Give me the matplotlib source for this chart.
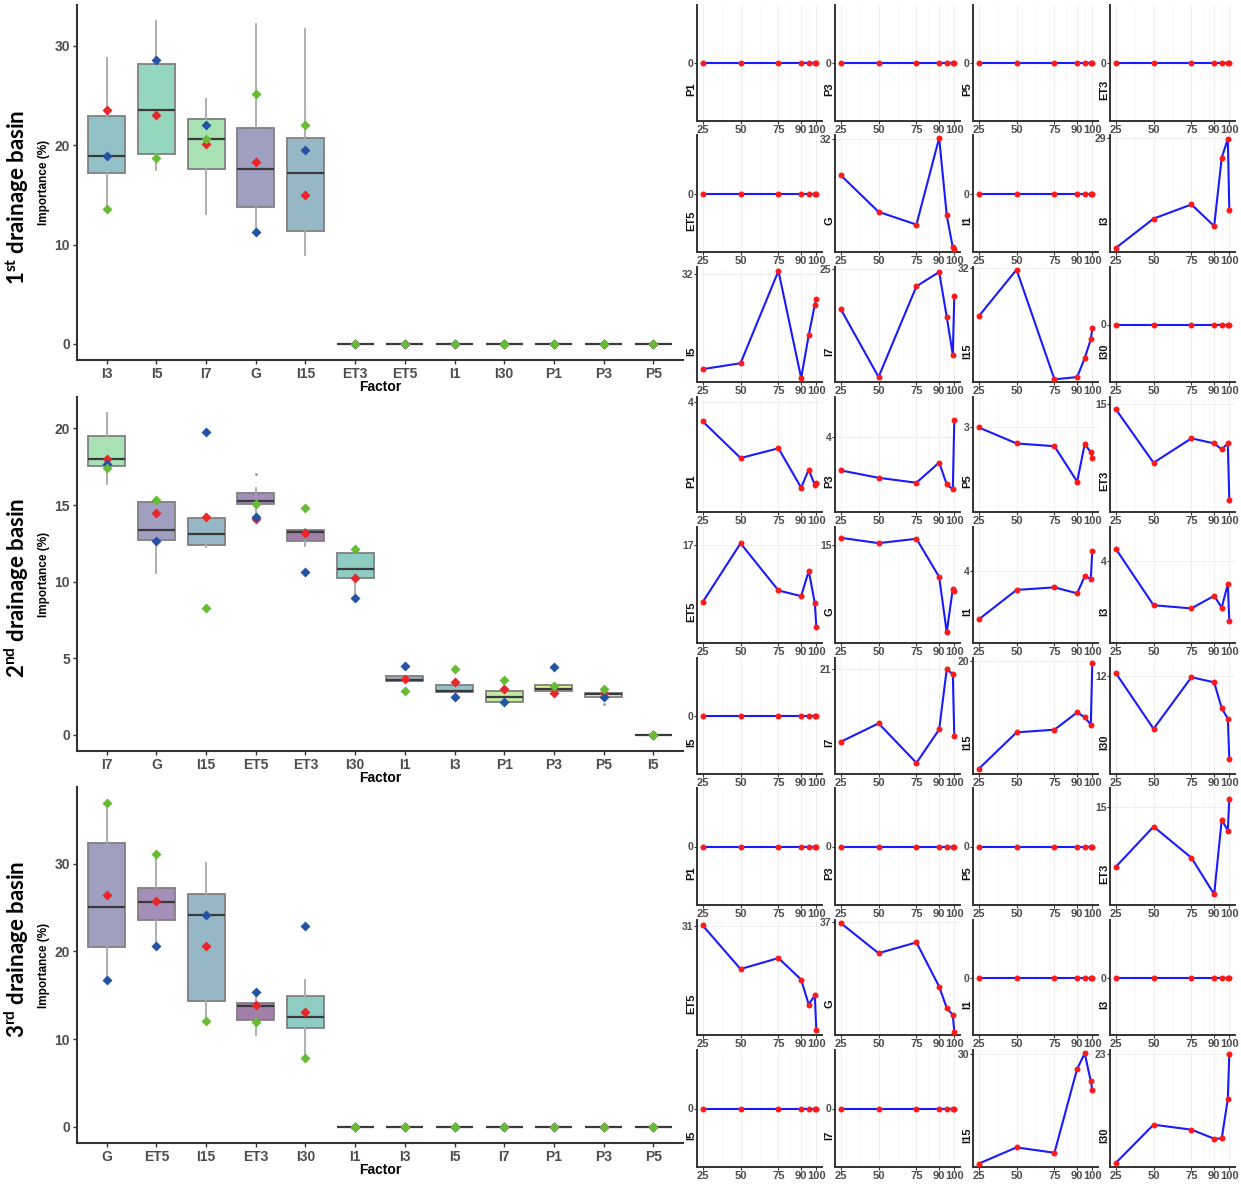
import numpy as np
import matplotlib
matplotlib.use('Agg')
import matplotlib.pyplot as plt
from matplotlib.ticker import MultipleLocator

plt.rcParams['font.family'] = 'Liberation Sans'
plt.rcParams['mathtext.fontset'] = 'custom'
plt.rcParams['mathtext.rm'] = 'Lato'
plt.rcParams['mathtext.bf'] = 'Lato:bold'

# percentiles on the x axis of the small plots
pct = [25, 50, 75, 90, 95, 99, 100]

# importance (%) per factor, one value per percentile (missing factor = all zero)
basin1 = {
    'G':   [25.2, 18.3, 15.9, 32.2, 17.65, 11.6, 11.3],
    'I3':  [13.6, 17.7, 19.67, 16.66, 26.2, 28.8, 18.87],
    'I5':  [18.75, 19.58, 32.5, 17.5, 23.52, 27.78, 28.56],
    'I7':  [20.61, 13.1, 23.12, 24.7, 19.73, 15.57, 22.09],
    'I15': [22.0, 31.7, 8.9, 9.38, 13.34, 17.23, 19.48],
}
basin2 = {
    'P1':  [3.56, 2.73, 2.95, 2.06, 2.47, 2.12, 2.17],
    'P3':  [3.19, 3.01, 2.89, 3.38, 2.85, 2.73, 4.42],
    'P5':  [3.0, 2.71, 2.66, 2.02, 2.70, 2.55, 2.45],
    'ET3': [14.79, 12.35, 13.46, 13.23, 12.96, 13.23, 10.66],
    'ET5': [15.07, 17.05, 15.46, 15.27, 16.12, 15.04, 14.24],
    'G':   [15.35, 15.08, 15.30, 13.36, 10.55, 12.76, 12.64],
    'I1':  [2.86, 3.55, 3.61, 3.47, 3.87, 3.81, 4.47],
    'I3':  [4.32, 2.88, 2.80, 3.12, 2.82, 3.42, 2.47],
    'I7':  [17.41, 18.32, 16.37, 18.02, 21.0, 20.75, 17.69],
    'I15': [8.3, 12.27, 12.56, 14.44, 13.9, 13.1, 19.79],
    'I30': [12.12, 10.05, 11.96, 11.77, 10.81, 10.43, 8.93],
}
basin3 = {
    'ET3': [11.9, 13.97, 12.37, 10.5, 14.32, 13.77, 15.4],
    'ET5': [31.1, 26.73, 27.83, 25.67, 23.17, 24.1, 20.66],
    'G':   [36.9, 31.3, 33.31, 25.1, 21.15, 19.87, 16.7],
    'I15': [12.1, 14.75, 13.87, 27.59, 30.1, 25.54, 24.1],
    'I30': [7.85, 13.16, 12.47, 11.22, 11.25, 16.71, 22.95],
}

# factor order on the boxplot axes and the red markers
order1 = ['I3', 'I5', 'I7', 'G', 'I15', 'ET3', 'ET5', 'I1', 'I30', 'P1', 'P3', 'P5']
order2 = ['I7', 'G', 'I15', 'ET5', 'ET3', 'I30', 'I1', 'I3', 'P1', 'P3', 'P5', 'I5']
order3 = ['G', 'ET5', 'I15', 'ET3', 'I30', 'I1', 'I3', 'I5', 'I7', 'P1', 'P3', 'P5']
red1 = [23.6, 23.0, 20.1, 18.3, 15.0, 0, 0, 0, 0, 0, 0, 0]
red2 = [18.0, 14.48, 14.24, 14.11, 13.2, 10.23, 3.64, 3.47, 3.02, 2.76, 2.71, 0]
red3 = [26.45, 25.8, 20.66, 13.87, 13.04, 0, 0, 0, 0, 0, 0, 0]

row_labels = [r'1$^{\mathbf{st}}$ drainage basin',
              r'2$^{\mathbf{nd}}$ drainage basin',
              r'3$^{\mathbf{rd}}$ drainage basin']
y_steps = [10, 5, 10]

factors = ['ET3', 'ET5', 'G', 'I1', 'I15', 'I3', 'I30', 'I5', 'I7', 'P1', 'P3', 'P5']
grid_order = ['P1', 'P3', 'P5', 'ET3', 'ET5', 'G', 'I1', 'I3', 'I5', 'I7', 'I15', 'I30']

W, H = 1241, 1184
fig = plt.figure(figsize=(W / 100, H / 100), dpi=100)


def px_axes(x0, y0, x1, y1):
    return fig.add_axes([x0 / W, 1 - y1 / H, (x1 - x0) / W, (y1 - y0) / H])


cmap = plt.get_cmap('viridis', 12)
fill = {f: cmap(i)[:3] + (0.5,) for i, f in enumerate(factors)}
zeros = [0.0] * len(pct)
grey = '#4d4d4d'

basins = [basin1, basin2, basin3]
orders = [order1, order2, order3]
reds = [red1, red2, red3]
panel_px = [(5, 360), (397, 751), (787, 1143)]
label_y = [197, 588, 949]

# ---- left: boxplots ----
for b in range(3):
    vals, order = basins[b], orders[b]
    ax = px_axes(77, panel_px[b][0], 683, panel_px[b][1])
    data = [vals.get(f, zeros) for f in order]
    x = np.arange(1, len(order) + 1)
    bp = ax.boxplot(data, positions=x, widths=0.75, patch_artist=True,
                    showcaps=False, whis=1.5,
                    boxprops=dict(edgecolor='#808080', linewidth=1.3),
                    medianprops=dict(color='#3a3a3a', linewidth=1.6),
                    whiskerprops=dict(color='#a8a8a8', linewidth=1.3),
                    flierprops=dict(marker='o', markersize=2, markerfacecolor='#999999',
                                    markeredgecolor='none'))
    for patch, f in zip(bp['boxes'], order):
        patch.set_facecolor(fill[f])

    ax.plot(x, reds[b], 'D', color='#e8262a', ms=5.5, mec='none', zorder=5)
    ax.plot(x, [d[-1] for d in data], 'D', color='#2453a4', ms=5.5, mec='none', zorder=5)
    ax.plot(x, [d[0] for d in data], 'D', color='#67bb35', ms=5.5, mec='none', zorder=6)

    ax.set_xlim(0.4, len(order) + 0.6)
    ax.margins(y=0.05)
    ax.yaxis.set_major_locator(MultipleLocator(y_steps[b]))
    ax.set_xticks(x, order)
    for s in ['top', 'right']:
        ax.spines[s].set_visible(False)
    for s in ['left', 'bottom']:
        ax.spines[s].set_color('#333333')
        ax.spines[s].set_linewidth(1.5)
    ax.tick_params(length=3, width=1, color='#333333', labelcolor=grey, labelsize=10, pad=2)
    for t in ax.get_xticklabels() + ax.get_yticklabels():
        t.set_fontweight('bold')
    ax.set_xlabel('Factor', fontsize=10, fontweight='bold', labelpad=-1)
    ax.set_ylabel('Importance (%)', fontsize=8.5, fontweight='bold', labelpad=3)

    fig.text(17 / W, 1 - label_y[b] / H, row_labels[b], rotation=90, ha='center', va='center',
             fontsize=16, fontweight='bold', family='Lato')

# ---- right: small line plots ----
col_x = [697, 835, 973, 1110]
row_top = [5, 135, 267, 397, 527, 658, 788, 920, 1050]
row_bot = [121, 252, 382, 512, 643, 774, 905, 1035, 1167]

for b in range(3):
    vals = basins[b]
    for k, f in enumerate(grid_order):
        r = 3 * b + k // 4
        c = k % 4
        ax = px_axes(col_x[c], row_top[r], col_x[c] + 125, row_bot[r])
        y = vals.get(f, zeros)
        ax.plot(pct, y, color='#1a1aff', lw=1.5, zorder=3)
        ax.plot(pct, y, 'o', color='#ff1a1a', ms=4.3, mec='none', zorder=4)
        ax.set_xlim(21.25, 103.75)
        ax.set_ylim(min(y) - 0.55, max(y) + 0.55)
        ax.set_xticks([25, 50, 75, 90, 100])
        ax.set_xticks([37.5, 62.5, 82.5, 95], minor=True)
        ax.set_yticks([round(max(y))])
        ax.grid(which='major', color='#ececec', lw=0.6)
        ax.grid(which='minor', color='#f4f4f4', lw=0.5)
        ax.set_axisbelow(True)
        for s in ['top', 'right']:
            ax.spines[s].set_visible(False)
        for s in ['left', 'bottom']:
            ax.spines[s].set_color('#333333')
            ax.spines[s].set_linewidth(1.4)
        ax.tick_params(axis='x', length=2, width=0.8, color='#333333', labelcolor=grey,
                       labelsize=8, pad=1)
        ax.tick_params(axis='y', length=2, width=0.8, color='#333333', labelcolor=grey,
                       labelsize=7.5, pad=0.5)
        ax.tick_params(which='minor', length=0)
        for t in ax.get_xticklabels() + ax.get_yticklabels():
            t.set_fontweight('bold')
        ax.text(-0.045, 0.27, f, transform=ax.transAxes, rotation=90, ha='center',
                va='center', fontsize=8, fontweight='bold', color='#111111')

fig.savefig('out.png', dpi=100)
